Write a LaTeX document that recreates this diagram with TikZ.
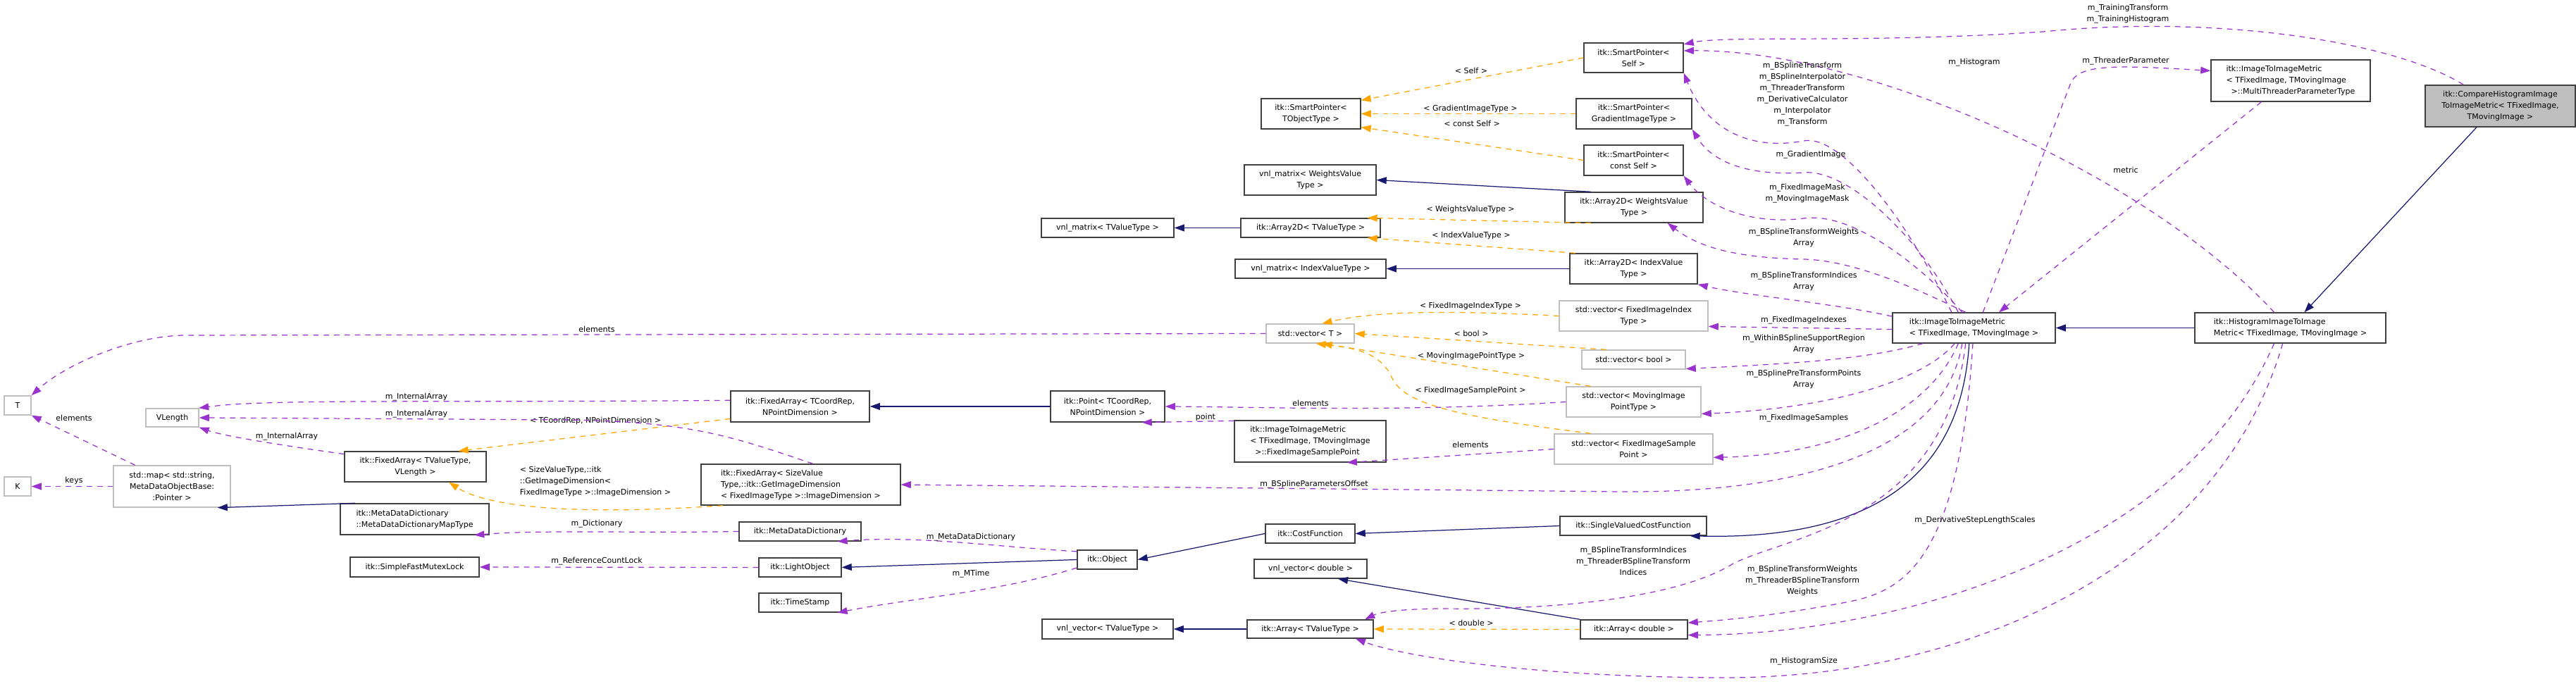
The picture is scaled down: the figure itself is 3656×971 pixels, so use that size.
\documentclass[tikz,border=0pt]{standalone}
\usepackage{fontspec}
\setmainfont{DejaVu Sans}
\usetikzlibrary{arrows.meta}
\definecolor{pur}{HTML}{9A32CD}
\definecolor{org}{HTML}{FFA500}
\definecolor{nav}{HTML}{191970}
\definecolor{bd}{HTML}{404040}
\definecolor{gbd}{HTML}{BFBFBF}
\newcommand\B[7]{%
 \pgfmathsetmacro\myBW{(#4-#2)*0.01}\pgfmathsetmacro\myBH{(#5-#3)*0.01}%
 \node[#6,minimum width=\myBW cm,minimum height=\myBH cm] (#1) at ({(#2+#4)/2},{(#3+#5)/2}) {#7};}
\tikzset{
 every node/.style={font=\fontsize{3.13pt}{4.55pt}\selectfont},
 bx/.style={draw=bd,line width=0.4pt,fill=white,inner sep=0pt,align=center},
 gbx/.style={draw=gbd,line width=0.4pt,fill=white,inner sep=0pt,align=center},
 lbx/.style={bx,align=left},
 lbl/.style={inner sep=0pt,align=center},
 tip/.style={-{Triangle[length=4pt,width=2.8pt]}},
 use/.style={tip,draw=pur,dash pattern=on 2.2pt off 2pt,line width=0.35pt},
 tpl/.style={tip,draw=org,dash pattern=on 2.2pt off 2pt,line width=0.35pt},
 inh/.style={tip,draw=nav,line width=0.35pt},
}
\begin{document}
\begin{tikzpicture}[x=0.01cm,y=-0.01cm]
\useasboundingbox (0,0) rectangle (3656,971);
% nodes
\B{gray}{3442}{121}{3655}{180}{bx,fill=gbd}{itk::CompareHistogramImage\\ToImageMetric< TFixedImage,\\TMovingImage >}
\B{mtpt}{3138}{85}{3364}{144}{lbx}{itk::ImageToImageMetric\\< TFixedImage, TMovingImage\\\ \ >::MultiThreaderParameterType}
\B{hist}{3115}{444}{3386}{487}{lbx}{itk::HistogramImageToImage\\Metric< TFixedImage, TMovingImage >}
\B{iim}{2686}{444}{2917}{487}{lbx}{itk::ImageToImageMetric\\< TFixedImage, TMovingImage >}
\B{spself}{2248}{61}{2389}{103}{bx}{itk::SmartPointer<\\Self >}
\B{spto}{1790}{140}{1931}{183}{bx}{itk::SmartPointer<\\TObjectType >}
\B{spgrad}{2237}{140}{2401}{183}{bx}{itk::SmartPointer<\\GradientImageType >}
\B{spconst}{2248}{206}{2389}{249}{bx}{itk::SmartPointer<\\const Self >}
\B{vnlmw}{1766}{234}{1953}{277}{bx}{vnl\_matrix< WeightsValue\\Type >}
\B{a2dw}{2221}{273}{2417}{316}{bx}{itk::Array2D< WeightsValue\\Type >}
\B{vnlmtv}{1478}{310}{1666}{337}{bx}{vnl\_matrix< TValueType >}
\B{a2dtv}{1761}{310}{1959}{337}{bx}{itk::Array2D< TValueType >}
\B{vnlmi}{1753}{368}{1967}{395}{bx}{vnl\_matrix< IndexValueType >}
\B{a2di}{2228}{360}{2409}{403}{bx}{itk::Array2D< IndexValue\\Type >}
\B{vfiit}{2213}{427}{2424}{470}{gbx}{std::vector< FixedImageIndex\\Type >}
\B{vect}{1797}{460}{1922}{487}{gbx}{std::vector< T >}
\B{vbool}{2245}{497}{2392}{524}{gbx}{std::vector< bool >}
\B{vmipt}{2223}{549}{2414}{592}{gbx}{std::vector< MovingImage\\PointType >}
\B{vfisp}{2206}{616}{2431}{659}{gbx}{std::vector< FixedImageSample\\Point >}
\B{svcf}{2214}{733}{2422}{760}{bx}{itk::SingleValuedCostFunction}
\B{arrd}{2243}{880}{2395}{907}{bx}{itk::Array< double >}
\B{facoord}{1037}{555}{1234}{599}{bx}{itk::FixedArray< TCoordRep,\\NPointDimension >}
\B{point}{1491}{555}{1653}{599}{bx}{itk::Point< TCoordRep,\\NPointDimension >}
\B{fisp}{1752}{597}{1967}{656}{lbx}{itk::ImageToImageMetric\\< TFixedImage, TMovingImage\\\ \ >::FixedImageSamplePoint}
\B{fasize}{995}{659}{1278}{717}{lbx}{itk::FixedArray< SizeValue\\Type,::itk::GetImageDimension\\< FixedImageType >::ImageDimension >}
\B{mdd}{1049}{741}{1222}{768}{bx}{itk::MetaDataDictionary}
\B{light}{1077}{792}{1194}{819}{bx}{itk::LightObject}
\B{tstamp}{1077}{842}{1194}{869}{bx}{itk::TimeStamp}
\B{obj}{1529}{781}{1614}{808}{bx}{itk::Object}
\B{cost}{1796}{744}{1923}{771}{bx}{itk::CostFunction}
\B{vnlvd}{1780}{794}{1940}{821}{bx}{vnl\_vector< double >}
\B{vnlvtv}{1479}{879}{1665}{907}{bx}{vnl\_vector< TValueType >}
\B{arrtv}{1770}{880}{1949}{906}{bx}{itk::Array< TValueType >}
\B{fatv}{489}{641}{690}{684}{bx}{itk::FixedArray< TValueType,\\VLength >}
\B{mddmap}{483}{715}{694}{759}{lbx}{itk::MetaDataDictionary\\::MetaDataDictionaryMapType}
\B{mutex}{497}{791}{680}{819}{bx}{itk::SimpleFastMutexLock}
\B{T}{6}{562}{44}{589}{gbx}{T}
\B{K}{6}{677}{44}{704}{gbx}{K}
\B{vlen}{207}{580}{282}{606}{gbx}{VLength}
\B{smap}{161}{661}{327}{720}{gbx}{std::map< std::string,\\MetaDataObjectBase:\\:Pointer >}
% inheritance
\draw[inh] (gray.-138) -- (hist.48);
\draw[inh] (hist.west) -- (iim.east);
\draw[inh] (iim.-107) .. controls (2785,640) and (2700,768) .. (svcf.-10);
\draw[inh] (svcf.west) -- (cost.east);
\draw[inh] (cost.west) -- (obj.east);
\draw[inh] (obj.west) -- (light.east);
\draw[inh] (a2dw.160) -- (vnlmw.east);
\draw[inh] (a2dtv.west) -- (vnlmtv.east);
\draw[inh] (a2di.west) -- (vnlmi.east);
\draw[inh] (point.west) -- (facoord.east);
\draw[inh] (mddmap.165) -- (smap.-25);
\draw[inh] (arrd.north west) -- (vnlvd.-20);
\draw[inh] (arrtv.west) -- (vnlvtv.east);
% templates
\draw[tpl] (spself.west) -- (spto.15);
\draw[tpl] (spgrad.west) -- (spto.east);
\draw[tpl] (spconst.west) -- (spto.-15);
\draw[tpl] (a2dw.-160) -- (a2dtv.10);
\draw[tpl] (a2di.165) -- (a2dtv.-10);
\draw[tpl] (vfiit.west) .. controls (2050,440) and (1950,442) .. (vect.40);
\draw[tpl] (vbool.160) -- (vect.east);
\draw[tpl] (vmipt.160) -- (vect.-40);
\draw[tpl] (vfisp.160) .. controls (2050,590) and (1990,570) .. (1975,535) .. controls (1960,505) and (1935,495) .. (vect.-60);
\draw[tpl] (facoord.-170) -- (fatv.20);
\draw[tpl] (fasize.-165) .. controls (850,730) and (700,725) .. (fatv.-25);
\draw[tpl] (arrd.west) -- (arrtv.east);
\node[lbl] at (2088,100) {< Self >};
\node[lbl] at (2087,154) {< GradientImageType >};
\node[lbl] at (2089,175) {< const Self >};
\node[lbl] at (2087,297) {< WeightsValueType >};
\node[lbl] at (2088,334) {< IndexValueType >};
\node[lbl] at (2087,434) {< FixedImageIndexType >};
\node[lbl] at (2088,473) {< bool >};
\node[lbl] at (2088,505) {< MovingImagePointType >};
\node[lbl] at (2087,554) {< FixedImageSamplePoint >};
\node[lbl] at (845,597) {< TCoordRep, NPointDimension >};
\node[lbl,align=left] at (845,683) {< SizeValueType,::itk\\::GetImageDimension<\\FixedImageType >::ImageDimension >};
\node[lbl] at (2088,884) {< double >};
% usage
\draw[use] (gray.150) .. controls (3400,60) and (3150,20) .. (2900,45) .. controls (2650,62) and (2450,50) .. (spself.15);
\node[lbl] at (3020,20) {m\_TrainingTransform\\m\_TrainingHistogram};
\draw[use] (hist.136) .. controls (3050,250) and (2650,70) .. (spself.8);
\node[lbl] at (2802,89) {m\_Histogram};
\draw[use] (iim.145) .. controls (2700,300) and (2610,190) .. (2560,200) .. controls (2480,215) and (2420,180) .. (spself.south east);
\node[lbl] at (2558,134) {m\_BSplineTransform\\m\_BSplineInterpolator\\m\_ThreaderTransform\\m\_DerivativeCalculator\\m\_Interpolator\\m\_Transform};
\draw[use] (iim.135) .. controls (2720,330) and (2620,240) .. (2560,245) .. controls (2480,250) and (2430,230) .. (spgrad.south east);
\node[lbl] at (2570,220) {m\_GradientImage};
\draw[use] (iim.127) .. controls (2730,380) and (2630,300) .. (2560,310) .. controls (2480,320) and (2420,290) .. (spconst.south east);
\node[lbl] at (2565,275) {m\_FixedImageMask\\m\_MovingImageMask};
\draw[use] (iim.118) .. controls (2740,420) and (2640,370) .. (2560,368) .. controls (2460,366) and (2410,350) .. (a2dw.-25);
\node[lbl] at (2560,337) {m\_BSplineTransformWeights\\Array};
\draw[use] (iim.172) .. controls (2600,430) and (2480,420) .. (a2di.south east);
\node[lbl] at (2560,399) {m\_BSplineTransformIndices\\Array};
\draw[use] (iim.181) -- (vfiit.-8);
\node[lbl] at (2560,455) {m\_FixedImageIndexes};
\draw[use] (iim.-163) .. controls (2650,510) and (2550,516) .. (vbool.-10);
\node[lbl] at (2560,488) {m\_WithinBSplineSupportRegion\\Array};
\draw[use] (iim.-141) .. controls (2730,540) and (2600,580) .. (vmipt.-10);
\node[lbl] at (2560,538) {m\_BSplinePreTransformPoints\\Array};
\draw[use] (iim.-135) .. controls (2740,580) and (2620,645) .. (vfisp.-6);
\node[lbl] at (2560,594) {m\_FixedImageSamples};
\draw[use] (iim.-127) .. controls (2760,640) and (2560,700) .. (2300,698) -- (fasize.east);
\node[lbl] at (1865,688) {m\_BSplineParametersOffset};
\draw[use] (iim.-118) .. controls (2760,740) and (2540,760) .. (2460,800) .. controls (2380,850) and (2200,866) .. (2050,864) .. controls (2000,864) and (1960,868) .. (arrtv.10);
\node[lbl] at (2318,796) {m\_BSplineTransformIndices\\m\_ThreaderBSplineTransform\\Indices};
\draw[use] (iim.-94) .. controls (2780,800) and (2700,840) .. (2620,855) .. controls (2520,874) and (2450,880) .. (arrd.7);
\node[lbl] at (2558,824) {m\_BSplineTransformWeights\\m\_ThreaderBSplineTransform\\Weights};
\draw[use] (hist.-136) .. controls (3100,780) and (2700,900) .. (arrd.-6);
\node[lbl] at (2803,739) {m\_DerivativeStepLengthScales};
\draw[use] (hist.-116) .. controls (3150,800) and (2800,962) .. (2450,962) .. controls (2200,962) and (2000,935) .. (arrtv.-12);
\node[lbl] at (2560,939) {m\_HistogramSize};
\draw[use] (iim.60) -- (2940,115) .. controls (2955,92) and (3000,92) .. (mtpt.173);
\node[lbl] at (3017,87) {m\_ThreaderParameter};
\draw[use] (mtpt.-144) -- (iim.32);
\node[lbl] at (3017,241) {metric};
\draw[use] (fisp.165) -- (point.-25);
\node[lbl] at (1711,592) {point};
\draw[use] (vmipt.west) .. controls (2000,585) and (1800,578) .. (point.east);
\node[lbl] at (1860,572) {elements};
\draw[use] (vfisp.west) -- (fisp.-30);
\node[lbl] at (2087,631) {elements};
\draw[use] (vect.west) -- (260,476) .. controls (180,478) and (90,520) .. (T.north east);
\node[lbl] at (847,467) {elements};
\draw[use] (smap.150) -- (T.south east);
\node[lbl] at (105,593) {elements};
\draw[use] (smap.west |- K.east) -- (K.east);
\node[lbl] at (105,682) {keys};
\draw[use] (facoord.175) .. controls (600,572) and (380,566) .. (vlen.20);
\node[lbl] at (591,564) {m\_InternalArray};
\draw[use] (fasize.60) .. controls (1040,620) and (980,598) .. (800,596) -- (vlen.east);
\node[lbl] at (591,588) {m\_InternalArray};
\draw[use] (fatv.170) .. controls (420,635) and (320,620) .. (vlen.south east);
\node[lbl] at (407,620) {m\_InternalArray};
\draw[use] (mdd.west) .. controls (900,757) and (760,752) .. (mddmap.-15);
\node[lbl] at (847,744) {m\_Dictionary};
\draw[use] (light.west) -- (mutex.east);
\node[lbl] at (847,797) {m\_ReferenceCountLock};
\draw[use] (obj.165) .. controls (1400,775) and (1300,760) .. (mdd.-15);
\node[lbl] at (1378,763) {m\_MetaDataDictionary};
\draw[use] (obj.-165) .. controls (1420,840) and (1300,848) .. (tstamp.-15);
\node[lbl] at (1378,815) {m\_MTime};
\end{tikzpicture}
\end{document}
